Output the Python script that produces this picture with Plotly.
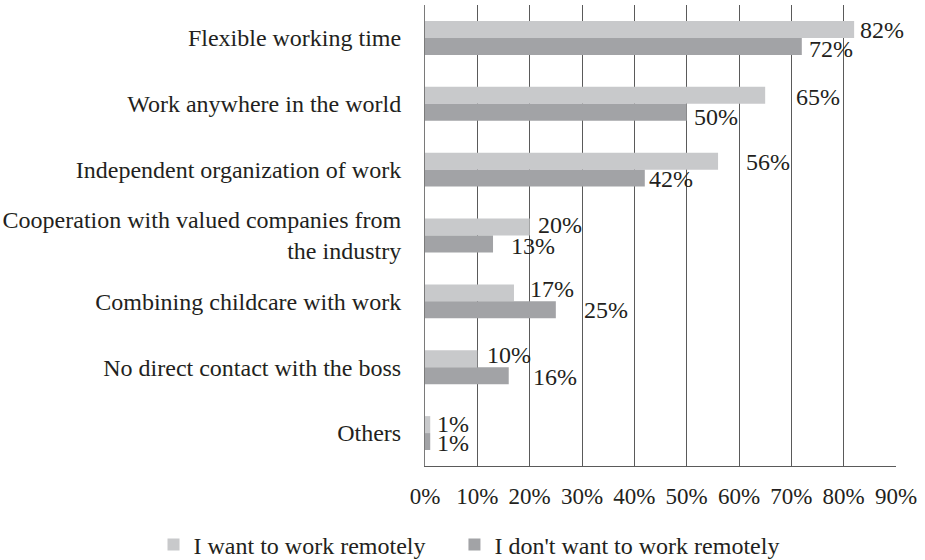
import plotly.graph_objects as go

categories = [
    "Flexible working time",
    "Work anywhere in the world",
    "Independent organization of work",
    "Cooperation with valued companies from<br>the industry",
    "Combining childcare with work",
    "No direct contact with the boss",
    "Others",
]
want_remote = [82, 65, 56, 20, 17, 10, 1]
dont_want_remote = [72, 50, 42, 13, 25, 16, 1]
series_names = ["I want to work remotely", "I don't want to work remotely"]
x_ticks = [0, 10, 20, 30, 40, 50, 60, 70, 80, 90]

# label offsets (pixels) relative to bar end / bar centre, as in the original
want_dx = [6, 31, 28, 8, 16, 10, 7]
want_dy = [-1, -2, -1, 2, 4, 4, 1]
dont_dx = [7, 7, 4, 18, 28, 24, 7]
dont_dy = [-3, -5, -1, -2, 0, -1, -1]

FONT = "Times New Roman, Liberation Serif, DejaVu Serif, serif"
FS = 24
TXT = "#231f20"
LIGHT = "#c8c9cb"
DARK = "#a2a3a6"
GRID = "#5a5a5a"
LEGEND_PAD = "\u00a0" * 4  # invisible spacing between legend entries

fig = go.Figure()
fig.add_trace(go.Bar(y=categories, x=want_remote, orientation="h",
                     name=series_names[0] + LEGEND_PAD,
                     marker=dict(color=LIGHT, line_width=0)))
fig.add_trace(go.Bar(y=categories, x=dont_want_remote, orientation="h",
                     name=series_names[1],
                     marker=dict(color=DARK, line_width=0)))

BAR_HALF = 8.5
for i, cat in enumerate(categories):
    fig.add_annotation(x=want_remote[i], y=cat, text=f"{want_remote[i]}%",
                       showarrow=False, xanchor="left", yanchor="middle",
                       xshift=want_dx[i] - 1, yshift=BAR_HALF + want_dy[i],
                       font=dict(family=FONT, size=FS, color=TXT), borderpad=0)
    fig.add_annotation(x=dont_want_remote[i], y=cat, text=f"{dont_want_remote[i]}%",
                       showarrow=False, xanchor="left", yanchor="middle",
                       xshift=dont_dx[i] - 1, yshift=-BAR_HALF + dont_dy[i],
                       font=dict(family=FONT, size=FS, color=TXT), borderpad=0)

fig.update_layout(
    width=925, height=560,
    margin=dict(l=425, r=29, t=5, b=94, autoexpand=False),
    paper_bgcolor="white", plot_bgcolor="white",
    barmode="group", bargap=0.485, bargroupgap=0,
    font=dict(family=FONT, size=FS, color=TXT),
    showlegend=True,
    legend=dict(orientation="h", xref="paper", yref="paper",
                x=-0.5764, xanchor="left", y=-0.171, yanchor="middle",
                font=dict(family=FONT, size=FS, color=TXT),
                traceorder="normal"),
    xaxis=dict(range=[0, 90], tickvals=x_ticks, ticktext=[f"{v}%" for v in x_ticks],
               showgrid=True, gridcolor=GRID, gridwidth=1,
               showline=True, linecolor=GRID, linewidth=1, mirror=False,
               zeroline=False, ticks="", ticklabelstandoff=9,
               tickfont=dict(family=FONT, size=23, color=TXT)),
    yaxis=dict(autorange="reversed", showgrid=False, showline=True,
               linecolor="#7a7a7a", linewidth=1, ticks="", ticklabelstandoff=18,
               tickfont=dict(family=FONT, size=FS, color=TXT)),
)

fig.write_html("out.html")
